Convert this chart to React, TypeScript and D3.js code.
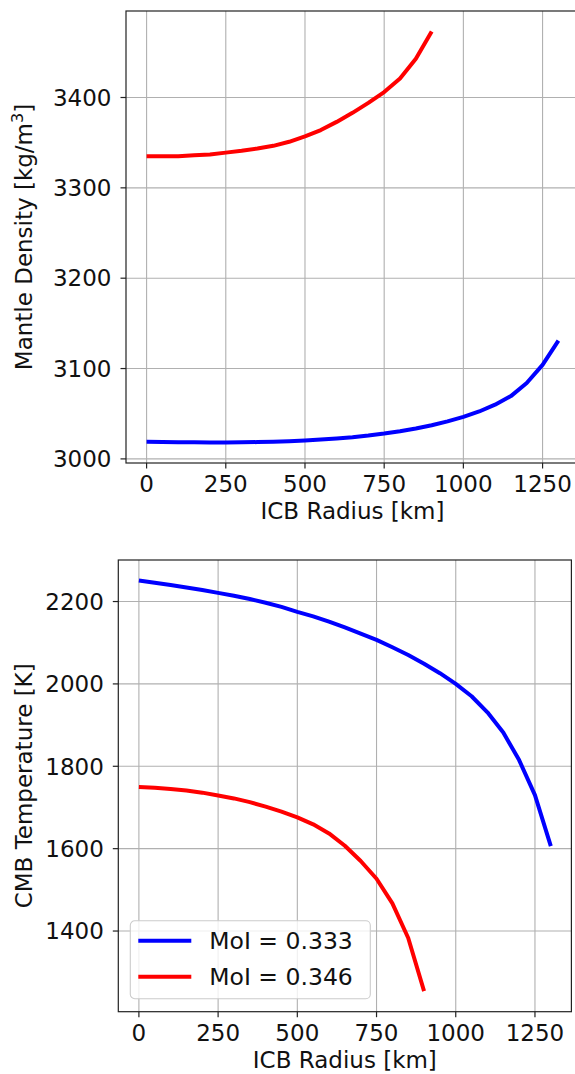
import React, { useEffect, useRef } from 'react';
import * as d3 from 'd3';

// ICB radius samples [km]
const radius333 = [0, 50, 100, 150, 200, 250, 300, 350, 400, 450, 500, 550, 600, 650, 700, 750, 800, 850, 900, 950, 1000, 1050, 1100, 1150, 1200, 1250, 1300];
const radius346 = [0, 50, 100, 150, 200, 250, 300, 350, 400, 450, 500, 550, 600, 650, 700, 750, 800, 850, 900];

// mantle density [kg/m^3]
const density333 = [3019, 3018.8, 3018.5, 3018.3, 3018.2, 3018.2, 3018.3, 3018.6, 3019, 3019.6, 3020.4, 3021.4, 3022.6, 3024, 3025.8, 3028, 3030.6, 3033.6, 3037.2, 3041.5, 3046.5, 3052.5, 3060, 3069.5, 3084, 3104, 3131];
const density346 = [3335, 3335, 3335, 3336, 3337, 3339, 3341, 3343.5, 3346.5, 3351, 3357, 3364, 3373, 3383, 3394, 3406, 3421, 3443, 3473];

// CMB temperature [K]
const temp333 = [2251, 2245.5, 2240, 2234, 2228, 2221, 2214, 2206, 2197, 2187, 2175, 2164, 2151, 2137, 2122, 2107, 2089, 2070, 2049, 2026, 2000, 1970, 1931, 1882, 1815, 1730, 1606];
const temp346 = [1750, 1748, 1745, 1741, 1736, 1729, 1722, 1713, 1702, 1690, 1676, 1659, 1637, 1607, 1570, 1527, 1467, 1383, 1254];

const xTicks = [0, 250, 500, 750, 1000, 1250];
const densityTicks = [3000, 3100, 3200, 3300, 3400];
const tempTicks = [1400, 1600, 1800, 2000, 2200];
const seriesLabels = ['MoI = 0.333', 'MoI = 0.346'];

const COLORS = ['#0000ff', '#ff0000'];
const FONT = 'DejaVu Sans, sans-serif';
const FS = 23;

// matplotlib-style 5% padding around data
const padded = (vals) => {
  const [lo, hi] = d3.extent(vals);
  const p = (hi - lo) * 0.05;
  return [lo - p, hi + p];
};

const drawPanel = (svg, opts) => {
  const { box, series, yTicks, yLabel, legend } = opts;
  const allX = series.flatMap((s) => s.x);
  const allY = series.flatMap((s) => s.y);

  const xScale = d3.scaleLinear().domain(padded(allX)).range([box.left, box.right]);
  const yScale = d3.scaleLinear().domain(padded(allY)).range([box.bottom, box.top]);

  const g = svg.append('g');

  // grid
  g.selectAll('.vgrid')
    .data(xTicks)
    .join('line')
    .attr('x1', (d) => xScale(d))
    .attr('x2', (d) => xScale(d))
    .attr('y1', box.top)
    .attr('y2', box.bottom)
    .attr('stroke', '#b0b0b0')
    .attr('stroke-width', 1.1);
  g.selectAll('.hgrid')
    .data(yTicks)
    .join('line')
    .attr('x1', box.left)
    .attr('x2', box.right)
    .attr('y1', (d) => yScale(d))
    .attr('y2', (d) => yScale(d))
    .attr('stroke', '#b0b0b0')
    .attr('stroke-width', 1.1);

  // lines
  const line = d3
    .line()
    .x((d) => xScale(d[0]))
    .y((d) => yScale(d[1]));
  series.forEach((s, i) => {
    g.append('path')
      .datum(s.x.map((x, j) => [x, s.y[j]]))
      .attr('fill', 'none')
      .attr('stroke', COLORS[i])
      .attr('stroke-width', 4)
      .attr('stroke-linejoin', 'round')
      .attr('d', line);
  });

  // spines
  g.append('rect')
    .attr('x', box.left)
    .attr('y', box.top)
    .attr('width', box.right - box.left)
    .attr('height', box.bottom - box.top)
    .attr('fill', 'none')
    .attr('stroke', '#222')
    .attr('stroke-width', 1.2);

  // x ticks
  const xt = g.selectAll('.xt').data(xTicks).join('g');
  xt.append('line')
    .attr('x1', (d) => xScale(d))
    .attr('x2', (d) => xScale(d))
    .attr('y1', box.bottom)
    .attr('y2', box.bottom + 5.5)
    .attr('stroke', '#222')
    .attr('stroke-width', 1.2);
  xt.append('text')
    .attr('x', (d) => xScale(d))
    .attr('y', box.bottom + 29)
    .attr('text-anchor', 'middle')
    .text((d) => d);

  // y ticks
  const yt = g.selectAll('.yt').data(yTicks).join('g');
  yt.append('line')
    .attr('x1', box.left - 5.5)
    .attr('x2', box.left)
    .attr('y1', (d) => yScale(d))
    .attr('y2', (d) => yScale(d))
    .attr('stroke', '#222')
    .attr('stroke-width', 1.2);
  yt.append('text')
    .attr('x', box.left - 14.5)
    .attr('y', (d) => yScale(d))
    .attr('dy', '0.36em')
    .attr('text-anchor', 'end')
    .text((d) => d);

  // axis labels
  g.append('text')
    .attr('x', (box.left + box.right) / 2)
    .attr('y', box.bottom + 56)
    .attr('text-anchor', 'middle')
    .text('ICB Radius [km]');

  const yl = g
    .append('text')
    .attr('transform', `translate(32, ${(box.top + box.bottom) / 2}) rotate(-90)`)
    .attr('text-anchor', 'middle');
  yLabel.forEach((part) => {
    yl.append('tspan')
      .attr('font-size', part.sup ? FS * 0.7 : FS)
      .attr('dy', part.sup ? -9 : part.after ? 9 : 0)
      .text(part.t);
  });

  if (legend) {
    const lg = g.append('g').attr('transform', `translate(${box.left + 12}, ${box.bottom - 91})`);
    lg.append('rect')
      .attr('width', 240)
      .attr('height', 78)
      .attr('rx', 4.5)
      .attr('fill', 'white')
      .attr('fill-opacity', 0.8)
      .attr('stroke', '#cccccc')
      .attr('stroke-width', 1.1);
    seriesLabels.forEach((lab, i) => {
      const cy = 20 + i * 36;
      lg.append('line')
        .attr('x1', 8)
        .attr('x2', 61)
        .attr('y1', cy)
        .attr('y2', cy)
        .attr('stroke', COLORS[i])
        .attr('stroke-width', 4);
      lg.append('text')
        .attr('x', 79)
        .attr('y', cy)
        .attr('dy', '0.36em')
        .attr('font-size', 23.5)
        .text(lab);
    });
  }
};

const App = () => {
  const svgRef = useRef(null);

  useEffect(() => {
    const svg = d3.select(svgRef.current);
    svg.selectAll('*').remove();
    svg.attr('font-family', FONT).attr('font-size', FS).attr('fill', '#111');

    drawPanel(svg, {
      box: { left: 126, right: 579, top: 11, bottom: 463 },
      series: [
        { x: radius333, y: density333 },
        { x: radius346, y: density346 },
      ],
      yTicks: densityTicks,
      yLabel: [{ t: 'Mantle Density [kg/m' }, { t: '3', sup: true }, { t: ']', after: true }],
    });

    drawPanel(svg, {
      box: { left: 118.3, right: 571.4, top: 560, bottom: 1011.7 },
      series: [
        { x: radius333, y: temp333 },
        { x: radius346, y: temp346 },
      ],
      yTicks: tempTicks,
      yLabel: [{ t: 'CMB Temperature [K]' }],
      legend: true,
    });
  }, []);

  return (
    <svg
      ref={svgRef}
      width={575}
      height={1074}
      style={{ position: 'absolute', left: 0, top: 0, background: 'white' }}
    />
  );
};

export default App;
